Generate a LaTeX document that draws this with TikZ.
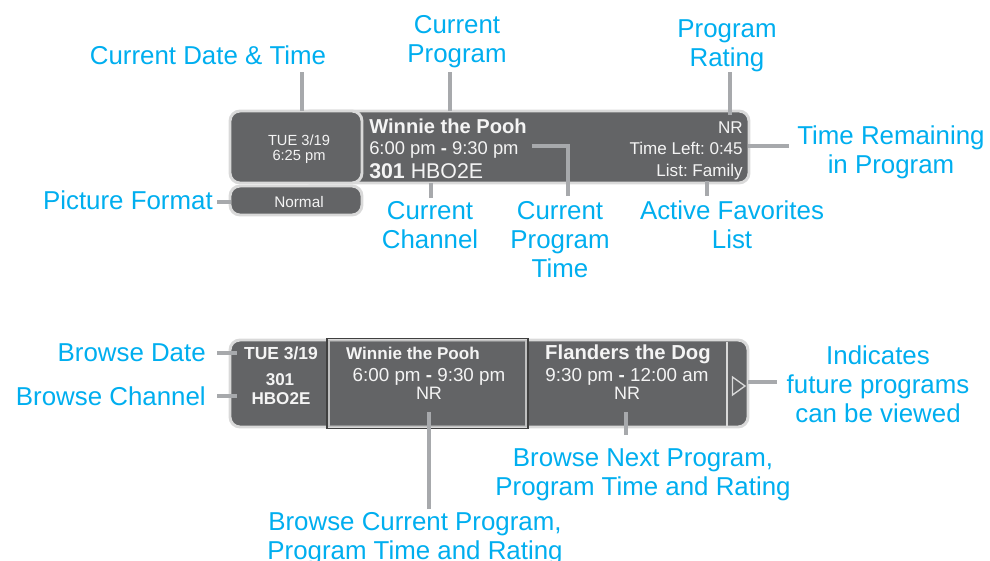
\documentclass[tikz,border=0pt]{standalone}
\usepackage{fontspec}
\setmainfont{Liberation Sans}
\definecolor{cy}{HTML}{00AEEF}
\definecolor{boxfill}{HTML}{636466}
\definecolor{boxrim}{HTML}{D9D9D9}
\definecolor{lineg}{HTML}{A7A9AC}
\definecolor{boxtxt}{HTML}{F4F4F4}
\newcommand{\fs}[1]{\fontsize{#1}{1.2\dimexpr#1pt\relax}\selectfont}
\frenchspacing
\begin{document}
\begin{tikzpicture}[x=0.75pt,y=-0.75pt,
  lbl/.style={text=cy, font=\fontsize{19.4}{21.75}\selectfont, align=center, inner sep=0pt, anchor=north},
  txt/.style={text=boxtxt, inner sep=0pt, anchor=base},
  panel/.style={fill=boxfill, draw=boxrim, line width=2.2pt, rounded corners=7.5pt},
  conn/.style={draw=lineg, line width=2.3pt}]
\useasboundingbox (0,0) rectangle (990,561);

% ---------- top panel ----------
\draw[panel] (300,111) rectangle (749,183);
\draw[panel] (230,111) rectangle (362,183);
\draw[panel] (230,186) rectangle (362,215);

\node[txt, font=\fs{11}] (tDay) at (299,145) {TUE 3/19};
\node[txt, font=\fs{11}] (tClock) at (299,160) {6:25 pm};
\node[txt, font=\fs{11.5}] (tNormal) at (299,207) {Normal};

\node[txt, anchor=base west, font=\bfseries\fs{15.1}] (tProg) at (369,133.5) {Winnie the Pooh};
\node[txt, anchor=base west, font=\fs{13.8}] (tTime) at (369,154) {6:00 pm {\bfseries -} 9:30 pm};
\node[txt, anchor=base west, font=\fs{16}] (tChan) at (369,178) {\bfseries 301\mdseries{} HBO2E};
\node[txt, anchor=base east, font=\fs{12.8}] (tNR) at (743,133.5) {NR};
\node[txt, anchor=base east, font=\fs{12.8}] (tLeft) at (743,154) {Time Left: 0:45};
\node[txt, anchor=base east, font=\fs{12.8}] (tList) at (743,176) {List: Family};

% ---------- bottom panel ----------
\draw[panel] (230,340) rectangle (748,427);
\draw[draw=boxrim, line width=1.6pt] (727,341.5) -- (727,425.5);
\draw[draw=boxrim, line width=1pt, line join=miter] (732.5,377) -- (745,386) -- (732.5,395) -- cycle;
\draw[draw=black!75, line width=0.8pt] (327,338.5) rectangle (528,428.5);
\draw[draw=black!25, line width=0.9pt] (329,340.5) rectangle (526,426.5);

\node[txt, font=\bfseries\fs{13.1}] (bDay) at (281,359) {TUE 3/19};
\node[txt, font=\bfseries\fs{12.8}] (bNum) at (280,385) {301};
\node[txt, font=\bfseries\fs{12.8}] (bChan) at (281,404) {HBO2E};

\node[txt, font=\bfseries\fs{12.8}] (bProg1) at (413,359) {Winnie the Pooh};
\node[txt, font=\fs{14.1}] (bTime1) at (429,381) {6:00 pm {\bfseries -} 9:30 pm};
\node[txt, font=\fs{13.5}] (bNR1) at (429,399) {NR};

\node[txt, font=\bfseries\fs{15.2}] (bProg2) at (628,359) {Flanders the Dog};
\node[txt, font=\fs{14.1}] (bTime2) at (627,381) {9:30 pm {\bfseries -} 12:00 am};
\node[txt, font=\fs{13.5}] (bNR2) at (627,399) {NR};

% ---------- labels ----------
\node[lbl] (lDT) at (208,45) {Current Date \& Time};
\node[lbl] (lCP) at (457,15) {Current\\Program};
\node[lbl] (lPR) at (727,19) {Program\\Rating};
\node[lbl] (lTR) at (891,125) {Time Remaining\\in Program};
\node[lbl, anchor=north east] (lPF) at (213,190) {Picture Format};
\node[lbl] (lCC) at (430,201) {Current\\Channel};
\node[lbl] (lCT) at (560,201) {Current\\Program\\Time};
\node[lbl] (lAF) at (732,200) {Active Favorites\\List};
\node[lbl, anchor=north east] (lBD) at (206,343) {Browse Date};
\node[lbl, anchor=north east] (lBC) at (206,386) {Browse Channel};
\node[lbl] (lIN) at (878,345) {Indicates\\future programs\\can be viewed};
\node[lbl] (lBN) at (643,448) {Browse Next Program,\\Program Time and Rating};
\node[lbl] (lBCur) at (415,512) {Browse Current Program,\\Program Time and Rating};

% ---------- connector ends ----------
\coordinate (aDT) at (302,72);   \coordinate (bDT) at (302,111);
\coordinate (aCP) at (450,72);   \coordinate (bCP) at (450,111);
\coordinate (aPR) at (730,72);   \coordinate (bPR) at (730,115);
\coordinate (aTR) at (789,146);  \coordinate (bTR) at (748,146);
\coordinate (aCT) at (568,196);  \coordinate (kCT) at (568,146); \coordinate (bCT) at (532,146);
\coordinate (aAF) at (707,196);  \coordinate (bAF) at (707,181);
\coordinate (aCC) at (431,198);  \coordinate (bCC) at (431,183);
\coordinate (aPF) at (217,202);  \coordinate (bPF) at (231,202);
\coordinate (aBD) at (217,353);  \coordinate (bBD) at (237,353);
\coordinate (aBC) at (217,396);  \coordinate (bBC) at (237,396);
\coordinate (aIN) at (777,382);  \coordinate (bIN) at (748,382);
\coordinate (aBCur) at (429,509); \coordinate (bBCur) at (429,412);
\coordinate (aBN) at (626,435);  \coordinate (bBN) at (626,412);

\draw[conn] (aDT) -- (bDT);
\draw[conn] (aCP) -- (bCP);
\draw[conn] (aPR) -- (bPR);
\draw[conn] (aTR) -- (bTR);
\draw[conn] (aCT) -- (kCT) -- (bCT);
\draw[conn] (aAF) -- (bAF);
\draw[conn] (aCC) -- (bCC);
\draw[conn] (aPF) -- (bPF);
\draw[conn] (aBD) -- (bBD);
\draw[conn] (aBC) -- (bBC);
\draw[conn] (aIN) -- (bIN);
\draw[conn] (aBCur) -- (bBCur);
\draw[conn] (aBN) -- (bBN);
\end{tikzpicture}
\end{document}
